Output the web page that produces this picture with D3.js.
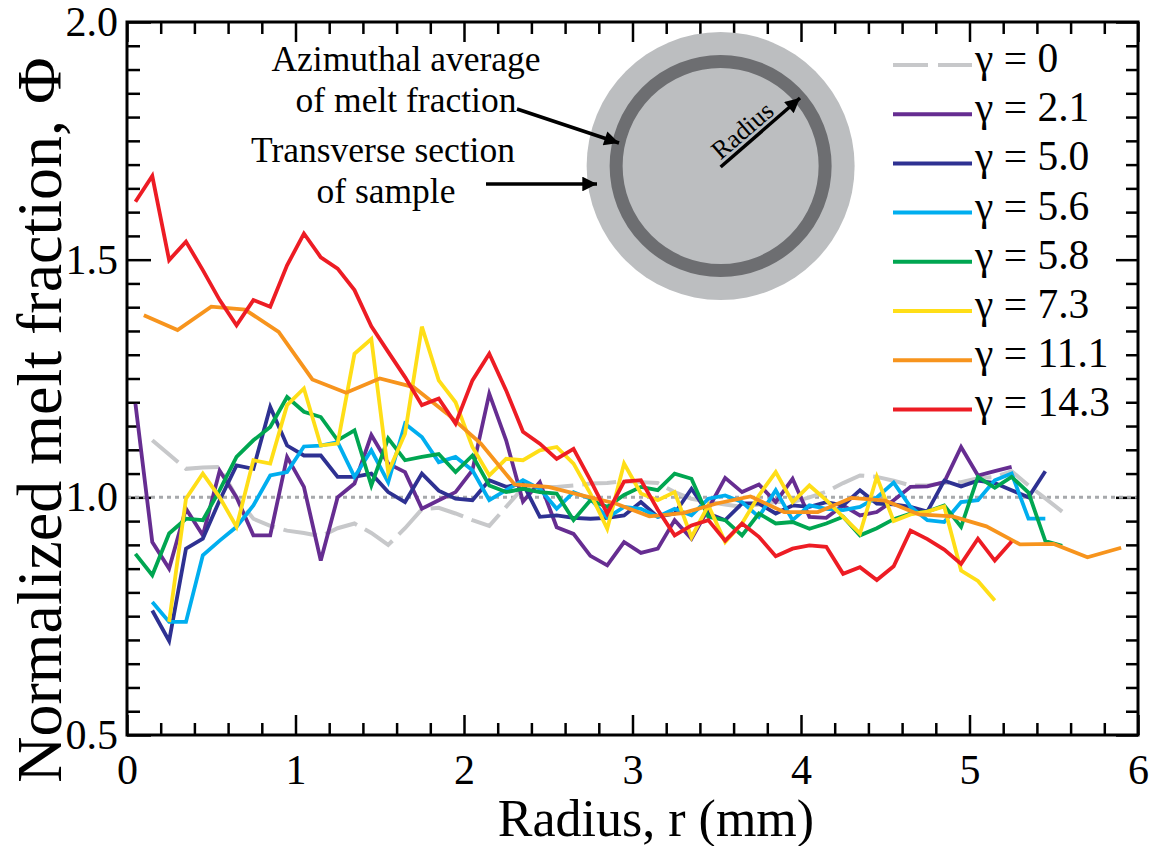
<!DOCTYPE html>
<html><head><meta charset="utf-8">
<script src="https://cdn.jsdelivr.net/npm/d3@7"></script>
<style>
body{margin:0;background:#fff}
svg{display:block}
text{font-family:"Liberation Serif","Times New Roman",serif;fill:#000}
</style>
</head><body><svg id="c" width="1151" height="846"></svg>
<script>
// ---------- data ----------
const rFine = [0.05,0.15,0.25,0.35,0.45,0.55,0.65,0.75,0.85,0.95,1.05,1.15,1.25,1.35,1.45,1.55,1.65,1.75,1.85,1.95,
  2.05,2.15,2.25,2.35,2.45,2.55,2.65,2.75,2.85,2.95,3.05,3.15,3.25,3.35,3.45,3.55,3.65,3.75,3.85,3.95,
  4.05,4.15,4.25,4.35,4.45,4.55,4.65,4.75,4.85,4.95,5.05,5.15,5.25,5.35,5.45,5.55];
const rCoarse = [0.1,0.3,0.5,0.7,0.9,1.1,1.3,1.5,1.7,1.9,2.1,2.3,2.5,2.7,2.9,3.1,3.3,3.5,3.7,3.9,4.1,4.3,4.5,4.7,4.9,5.1,5.3,5.5,5.7,5.9];

const gamma0 = [1.12,1.09,1.06,1.063,1.064, 1.0,0.955,0.94,0.93,0.925, 0.918,0.935,0.945,0.925,0.9,
  0.935,0.975,0.978,0.966,0.952, 0.94,0.98,1.02,1.022,1.022, 1.025,1.029,1.03,1.034,1.032,
  1.03,1.011,0.997,0.99,0.985, 0.98,0.985,0.99,0.99,1.0, 1.012,1.03,1.046,1.043,1.035,
  1.025,1.025,1.03,1.032,1.04, 1.043,1.055,1.025,0.998,0.97];            // r from 0.15
const gamma21 = [1.197,0.906,0.850,0.976,0.920, 1.056,1.0,0.920,0.920,1.085, 1.022,0.867,1.0,1.029,1.131,
  1.071,1.053,0.976,0.994,1.011, 1.057,1.218,1.12,0.991,1.032, 0.937,0.923,0.877,0.857,0.906,
  0.883,0.892,0.952,0.913,0.976, 1.041,1.011,1.027,0.990,1.039, 0.959,0.957,0.983,0.962,0.969,
  0.994,1.022,1.023,1.032,1.106, 1.046,1.055,1.064];                      // r from 0.05
const gamma50 = [0.762,0.698,0.892,0.913,0.994, 1.067,1.06,1.190,1.109,1.088, 1.088,1.043,1.043,1.05,1.011,
  0.990,1.050,1.014,0.997,0.994, 1.036,1.022,1.029,0.959,0.962, 0.957,0.955,0.957,0.962,0.990,
  0.959,0.966,1.018,0.966,0.952, 0.987,0.987,0.966,0.983,0.980, 0.990,0.983,1.015,0.987,0.985,
  0.980,0.97,1.035,1.023,1.035, 1.030,1.015,1.0,1.055];                    // r from 0.15
const gamma56 = [0.780,0.738,0.738,0.878,0.909, 0.938,0.983,1.046,1.053,1.107, 1.109,1.116,1.043,1.099,1.032,
  1.155,1.127,1.074,1.085,1.057, 0.994,1.015,1.036,1.018,0.976, 1.011,0.997,0.957,0.980,0.976,
  0.959,0.976,0.962,0.997,1.004, 0.990,0.959,1.015,0.952,0.983, 0.976,0.973,0.980,1.0,1.031,
  0.980,0.952,0.948,0.990,0.994, 1.036,1.050,0.955,0.955];                 // r from 0.15
const gamma58 = [0.881,0.836,0.924,0.955,0.952, 1.015,1.085,1.120,1.148,1.211, 1.180,1.169,1.120,1.141,1.025,
  1.124,1.078,1.085,1.091,1.053, 1.088,1.025,1.011,1.018,1.011, 1.008,0.952,0.994,0.980,1.005,
  1.022,1.015,1.050,1.039,0.959, 0.952,0.920,0.966,0.945,0.948, 0.934,0.945,0.959,0.920,0.935,
  0.954,0.966,0.970,0.983,0.938, 1.043,1.020,1.043,1.01,0.908,0.898];       // r from 0.05
const gamma73 = [0.738,0.997,1.050,1.0,0.938, 1.078,1.071,1.194,1.229,1.109, 1.113,1.302,1.333,1.053,1.134,
  1.359,1.246,1.200,1.106,1.046, 1.081,1.078,1.099,1.106,1.071, 1.008,0.934,1.071,1.008,0.994,
  1.011,0.916,0.983,0.906,0.945, 1.004,1.053,0.990,1.025,0.994, 0.959,0.924,1.043,0.950,0.964,
  0.970,0.981,0.846,0.824,0.783];                                         // r from 0.25
const gamma111 = [1.383,1.352,1.401,1.395,1.348, 1.248,1.220,1.250,1.232,1.176, 1.113,1.027,1.022,1.004,0.987,
  0.960,0.967,0.987,1.002,0.969, 0.969,0.999,0.993,0.964,0.960, 0.939,0.901,0.902,0.874,0.894]; // rCoarse
const gamma143 = [1.622,1.676,1.499,1.538,1.478, 1.415,1.362,1.415,1.401,1.488, 1.555,1.505,1.481,1.436,1.36,
  1.306,1.253,1.194,1.208,1.155, 1.246,1.302,1.225,1.138,1.113, 1.081,1.102,1.036,0.966,1.033,
  1.036,0.974,0.920,0.941,0.952, 0.909,0.945,0.917,0.876,0.892, 0.899,0.896,0.839,0.853,0.826,
  0.855,0.93,0.912,0.89,0.860, 0.913,0.867,0.907];                        // r from 0.05

const seriesLabels = ["γ = 0","γ = 2.1","γ = 5.0","γ = 5.6","γ = 5.8","γ = 7.3","γ = 11.1","γ = 14.3"];
const seriesColors = ["#c7c8ca","#662d91","#2e3192","#00aeef","#00a651","#ffde17","#f7941d","#ed1c24"];
const seriesValues = [gamma0,gamma21,gamma50,gamma56,gamma58,gamma73,gamma111,gamma143];
const seriesR = [rFine.slice(1),rFine.slice(0),rFine.slice(1),rFine.slice(1),rFine.slice(0),rFine.slice(2),rCoarse,rFine.slice(0)];

const xTicks = [0,1,2,3,4,5,6];
const xTickLabels = ["0","1","2","3","4","5","6"];
const yTicks = [0.5,1.0,1.5,2.0];
const yTickLabels = ["0.5","1.0","1.5","2.0"];

// ---------- layout ----------
const svg = d3.select("#c");
const L=127, R=1138, T=22, B=735;
const x = d3.scaleLinear().domain([0,6]).range([L,R]);
const y = d3.scaleLinear().domain([0.5,2.0]).range([B,T]);
const xMinor = d3.range(0,6.001,0.2).filter(v=>Math.abs(v-Math.round(v))>1e-6);
const yMinor = d3.range(0.5,2.001,0.05).filter(v=>Math.abs(v*2-Math.round(v*2))>1e-6);

function styleAxis(g){
  g.select(".domain").remove();
  g.selectAll(".tick line").attr("stroke","#000").attr("stroke-width",2.5);
}
// bottom
svg.append("g").attr("transform",`translate(0,${B})`)
  .call(d3.axisBottom(x).tickValues(xTicks).tickFormat((d,i)=>xTickLabels[i]).tickSize(-20).tickPadding(19))
  .call(styleAxis).call(g=>g.selectAll("text").attr("font-size",42));
svg.append("g").attr("transform",`translate(0,${B})`)
  .call(d3.axisBottom(x).tickValues(xMinor).tickFormat("").tickSize(-12)).call(styleAxis);
// top
svg.append("g").attr("transform",`translate(0,${T})`)
  .call(d3.axisTop(x).tickValues(xTicks).tickFormat("").tickSize(-20)).call(styleAxis);
svg.append("g").attr("transform",`translate(0,${T})`)
  .call(d3.axisTop(x).tickValues(xMinor).tickFormat("").tickSize(-12)).call(styleAxis);
// left
svg.append("g").attr("transform",`translate(${L},0)`)
  .call(d3.axisLeft(y).tickValues(yTicks).tickFormat((d,i)=>yTickLabels[i]).tickSize(-24).tickPadding(9))
  .call(styleAxis).call(g=>g.selectAll("text").attr("font-size",42));
svg.append("g").attr("transform",`translate(${L},0)`)
  .call(d3.axisLeft(y).tickValues(yMinor).tickFormat("").tickSize(-13)).call(styleAxis);
// right
svg.append("g").attr("transform",`translate(${R},0)`)
  .call(d3.axisRight(y).tickValues(yTicks).tickFormat("").tickSize(-22)).call(styleAxis);
svg.append("g").attr("transform",`translate(${R},0)`)
  .call(d3.axisRight(y).tickValues(yMinor).tickFormat("").tickSize(-12)).call(styleAxis);

// reference dotted line at 1.0
svg.append("line").attr("x1",x(0)).attr("x2",x(6)).attr("y1",y(1)).attr("y2",y(1))
  .attr("stroke","#a7a9ac").attr("stroke-width",3).attr("stroke-dasharray","4,4");

// series lines
const line = d3.line().x(d=>x(d[0])).y(d=>y(d[1]));
seriesValues.forEach((vals,i)=>{
  const pts = vals.map((v,j)=>[seriesR[i][j],v]);
  svg.append("path").datum(pts).attr("d",line).attr("fill","none")
    .attr("stroke",seriesColors[i]).attr("stroke-width",i===0?4:3.8)
    .attr("stroke-linejoin","miter").attr("stroke-dasharray",i===0?"34,9":null);
});

// frame
svg.append("rect").attr("x",L).attr("y",T).attr("width",R-L).attr("height",B-T)
  .attr("fill","none").attr("stroke","#000").attr("stroke-width",3);

// axis titles
svg.append("text").attr("x",656).attr("y",836).attr("text-anchor","middle")
  .attr("font-size",52).text("Radius, r (mm)");
svg.append("text").attr("transform","translate(61,420) rotate(-90)").attr("text-anchor","middle")
  .attr("font-size",64).text("Normalized melt fraction, Φ");

// legend
const lg = svg.append("g");
seriesLabels.forEach((lab,i)=>{
  const yy = 65 + i*49.2;
  lg.append("line").attr("x1",893).attr("x2",972).attr("y1",yy).attr("y2",yy)
    .attr("stroke",seriesColors[i]).attr("stroke-width",4).attr("stroke-dasharray",i===0?"35,10":null);
  lg.append("text").attr("x",975).attr("y",yy+7).attr("font-size",41.5).text(lab);
});

// inset diagram
const cx = x(3.523), cy = y(1.697);
svg.append("circle").attr("cx",cx).attr("cy",cy).attr("r",134).attr("fill","#bcbec0");
svg.append("circle").attr("cx",cx).attr("cy",cy).attr("r",104.5).attr("fill","none")
  .attr("stroke","#6d6e71").attr("stroke-width",13);

const defs = svg.append("defs");
defs.append("marker").attr("id","ah").attr("viewBox","0 0 10 10").attr("refX",10).attr("refY",5)
  .attr("markerWidth",5.5).attr("markerHeight",4.2).attr("markerUnits","strokeWidth").attr("orient","auto")
  .append("path").attr("d","M0,0 L10,5 L0,10 Z").attr("fill","#000");
function arrow(x1,y1,x2,y2){
  svg.append("line").attr("x1",x1).attr("y1",y1).attr("x2",x2).attr("y2",y2)
    .attr("stroke","#000").attr("stroke-width",3.5).attr("marker-end","url(#ah)");
}
arrow(cx,cy+1,800,98);
arrow(517,109,619,143);
arrow(486,184,597,184);
const ang = Math.atan2(98-cy,800-cx)*180/Math.PI;
svg.append("text").attr("transform",`translate(742,130) rotate(${ang})`).attr("text-anchor","middle")
  .attr("dy","0.35em").attr("font-size",26).text("Radius");

const ann = [["Azimuthal average",406,71],["of melt fraction",406,112],["Transverse section",383,162],["of sample",386,203]];
ann.forEach(a=>svg.append("text").attr("x",a[1]).attr("y",a[2]).attr("text-anchor","middle").attr("font-size",35.5).text(a[0]));
</script>
</body></html>
